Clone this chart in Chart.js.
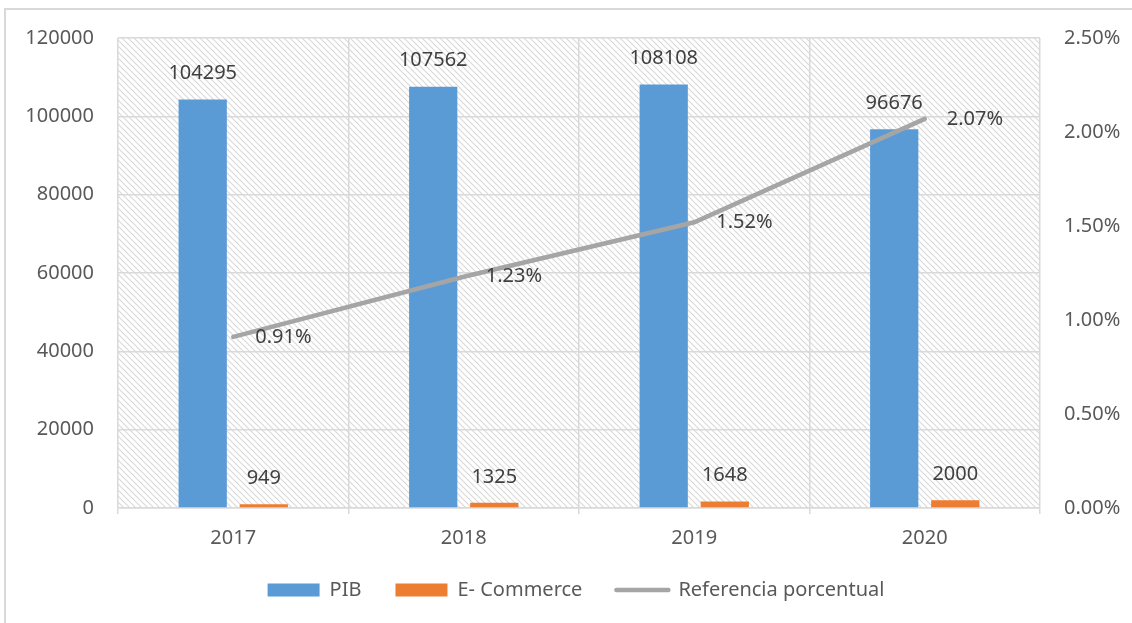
<!DOCTYPE html>
<html>
<head>
<meta charset="utf-8">
<script src="https://cdn.jsdelivr.net/npm/chart.js@4.4.0/dist/chart.umd.min.js"></script>
<style>
  html, body { margin: 0; padding: 0; background: #fff; }
  #wrap { width: 1132px; height: 623px; }
</style>
</head>
<body>
<div id="wrap"><canvas id="chart"></canvas></div>
<script>
// PIB vs E-Commerce, 2017-2020
const years = ['2017', '2018', '2019', '2020'];
const pib = [104295, 107562, 108108, 96676];
const ecommerce = [949, 1325, 1648, 2000];
const referencia = [0.91, 1.23, 1.52, 2.07]; // %

const FONT = '"Noto Sans", sans-serif';
const GRID = '#d9d9d9';

// diagonal hatch for the plot area
function hatchPattern(ctx) {
    const c = document.createElement('canvas');
    c.width = 6; c.height = 6;
    const p = c.getContext('2d');
    p.strokeStyle = '#d9d9d9';
    p.lineWidth = 1.1;
    p.beginPath();
    p.moveTo(-1, -1); p.lineTo(7, 7);
    p.moveTo(-1, 5); p.lineTo(1, 7);
    p.moveTo(5, -1); p.lineTo(7, 1);
    p.stroke();
    return ctx.createPattern(c, 'repeat');
}

const background = {
    id: 'background',
    beforeDraw(chart) {
        const { ctx, chartArea: a } = chart;
        ctx.save();
        ctx.fillStyle = hatchPattern(ctx);
        ctx.fillRect(a.left, a.top, a.right - a.left, a.bottom - a.top);
        // frame (left and top edges only are visible in the source)
        ctx.strokeStyle = GRID;
        ctx.lineWidth = 2;
        ctx.beginPath();
        ctx.moveTo(5, chart.height);
        ctx.lineTo(5, 9);
        ctx.lineTo(chart.width, 9);
        ctx.stroke();
        ctx.restore();
    }
};

const valueLabels = {
    id: 'valueLabels',
    afterDatasetsDraw(chart) {
        const ctx = chart.ctx;
        ctx.save();
        ctx.font = '20px ' + FONT;
        ctx.fillStyle = '#404040';
        ctx.textBaseline = 'middle';
        chart.data.datasets.forEach((ds, i) => {
            chart.getDatasetMeta(i).data.forEach((el, j) => {
                if (ds.type === 'line') {
                    ctx.textAlign = 'left';
                    ctx.fillText(ds.data[j].toFixed(2) + '%', el.x + 22, el.y);
                } else {
                    ctx.textAlign = 'center';
                    ctx.fillText(String(ds.data[j]), el.x, el.y - 26);
                }
            });
        });
        ctx.restore();
    }
};

const ctx = document.getElementById('chart').getContext('2d');
new Chart(ctx, {
    data: {
        labels: years,
        datasets: [{
            type: 'bar',
            label: 'PIB',
            data: pib,
            backgroundColor: '#5b9bd5',
            yAxisID: 'y',
            order: 1,
            categoryPercentage: 0.53,
            barPercentage: 0.79
        }, {
            type: 'bar',
            label: 'E- Commerce',
            data: ecommerce,
            backgroundColor: '#ed7d31',
            yAxisID: 'y',
            order: 1,
            categoryPercentage: 0.53,
            barPercentage: 0.79
        }, {
            type: 'line',
            label: 'Referencia porcentual',
            data: referencia,
            borderColor: '#a5a5a5',
            backgroundColor: '#a5a5a5',
            borderWidth: 4.5,
            borderCapStyle: 'round',
            pointRadius: 0,
            tension: 0,
            yAxisID: 'y1',
            order: 0
        }]
    },
    options: {
        responsive: true,
        maintainAspectRatio: false,
        animation: false,
        devicePixelRatio: 1,
        layout: { padding: { top: 38, left: 20, right: 0, bottom: 13 } },
        plugins: {
            tooltip: { enabled: false },
            legend: {
                position: 'bottom',
                maxHeight: 70,
                labels: {
                    font: { family: FONT, size: 20 },
                    color: '#595959',
                    padding: 34,
                    usePointStyle: true,
                    pointStyleWidth: 52,
                    boxHeight: 13,
                    sort: (a, b) => a.datasetIndex - b.datasetIndex,
                    generateLabels(chart) {
                        const items = Chart.defaults.plugins.legend.labels.generateLabels(chart);
                        items.forEach(it => {
                            const ds = chart.data.datasets[it.datasetIndex];
                            if (ds.type === 'line') {
                                it.pointStyle = 'line';
                                it.strokeStyle = '#a5a5a5';
                                it.lineWidth = 4.5;
                                it.lineCap = 'round';
                            } else {
                                it.pointStyle = 'rect';
                                it.lineWidth = 0;
                            }
                        });
                        return items;
                    }
                }
            }
        },
        scales: {
            x: {
                offset: true,
                grid: { offset: true, color: GRID, lineWidth: 1.5, tickLength: 6, tickColor: GRID },
                border: { color: GRID, width: 1.5 },
                ticks: { font: { family: FONT, size: 20 }, color: '#595959', padding: 12 },
                afterFit(axis) { axis.height = 38; }
            },
            y: {
                position: 'left',
                min: 0,
                max: 120000,
                grid: { color: GRID, lineWidth: 1.5, drawTicks: false },
                border: { display: false },
                ticks: {
                    stepSize: 20000,
                    font: { family: FONT, size: 20 },
                    color: '#595959',
                    padding: 24,
                    callback: v => String(v)
                },
                afterFit(axis) { axis.width = 98; }
            },
            y1: {
                position: 'right',
                min: 0,
                max: 2.5,
                grid: { display: false, drawTicks: false },
                border: { display: false },
                ticks: {
                    stepSize: 0.5,
                    font: { family: FONT, size: 20 },
                    color: '#595959',
                    padding: 24,
                    callback: v => v.toFixed(2) + '%'
                },
                afterFit(axis) { axis.width = 92; }
            }
        }
    },
    plugins: [background, valueLabels]
});
</script>
</body>
</html>
